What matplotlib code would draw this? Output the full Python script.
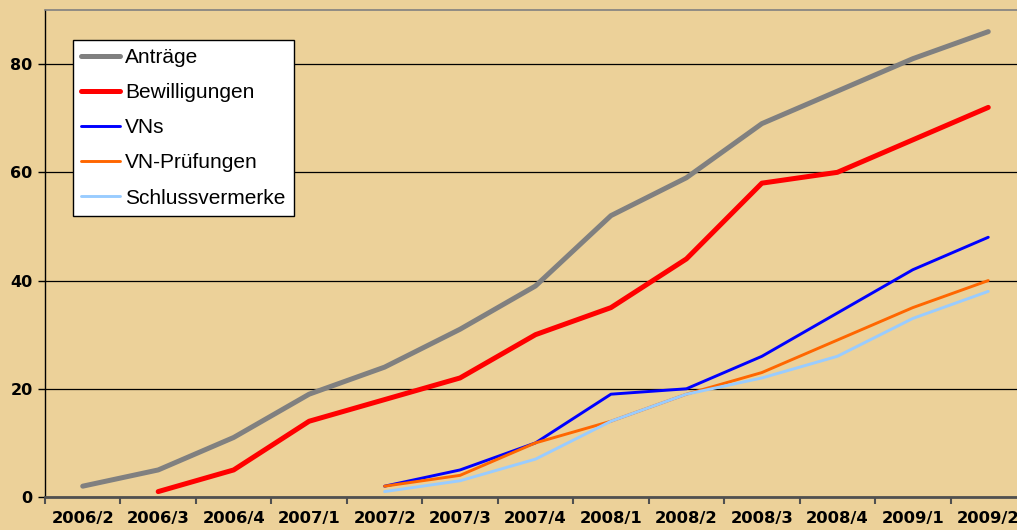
import matplotlib
matplotlib.use("Agg")
import matplotlib.pyplot as plt
import numpy as np

categories = ["2006/2", "2006/3", "2006/4", "2007/1", "2007/2", "2007/3", "2007/4",
              "2008/1", "2008/2", "2008/3", "2008/4", "2009/1", "2009/2"]
antraege = [2, 5, 11, 19, 24, 31, 39, 52, 59, 69, 75, 81, 86]
bewilligungen = [None, 1, 5, 14, 18, 22, 30, 35, 44, 58, 60, 66, 72]
vns = [None, None, None, None, 2, 5, 10, 19, 20, 26, 34, 42, 48]
vn_pruefungen = [None, None, None, None, 2, 4, 10, 14, 19, 23, 29, 35, 40]
schlussvermerke = [None, None, None, None, 1, 3, 7, 14, 19, 22, 26, 33, 38]
y_ticks = [0, 20, 40, 60, 80]

series = [
    ("Anträge", antraege, "#808080", 3.6),
    ("Bewilligungen", bewilligungen, "#FF0000", 3.6),
    ("VNs", vns, "#0000FF", 2.1),
    ("VN-Prüfungen", vn_pruefungen, "#FF6600", 2.1),
    ("Schlussvermerke", schlussvermerke, "#99CCFF", 2.1),
]

bg = "#ECD199"
fig = plt.figure(figsize=(10.17, 5.30), dpi=100, facecolor=bg)
ax = fig.add_axes([45/1017, 33/530, 981/1017, 487/530])
ax.set_facecolor(bg)

x = np.arange(len(categories))
for name, vals, col, lw in series:
    y = np.array([np.nan if v is None else v for v in vals], dtype=float)
    ax.plot(x, y, color=col, lw=lw, label=name, solid_capstyle="round",
            solid_joinstyle="round", zorder=3)

ax.set_xlim(-0.5, len(categories) - 0.5)
ax.set_ylim(0, 90)
ax.set_yticks(y_ticks)
ax.set_yticklabels([str(t) for t in y_ticks], fontsize=11.5, fontweight="bold",
                   family="DejaVu Sans")
ax.set_xticks(x)
ax.set_xticklabels(categories, fontsize=11.8, fontweight="bold", family="DejaVu Sans")
ax.set_xticks(np.arange(-0.5, len(categories), 1.0), minor=True)
ax.tick_params(axis="x", which="major", length=0, pad=10)
ax.tick_params(axis="x", which="minor", length=5, width=1.5, color="#505050", direction="out")
ax.tick_params(axis="y", length=5, width=1, color="black", direction="out", pad=4)

ax.grid(axis="y", color="black", lw=0.9, zorder=1)
ax.set_axisbelow(True)
ax.spines["right"].set_visible(False)
ax.spines["top"].set_color("#808080")
ax.spines["top"].set_linewidth(1.2)
ax.spines["left"].set_color("black")
ax.spines["left"].set_linewidth(1.0)
ax.spines["bottom"].set_color("#505050")
ax.spines["bottom"].set_linewidth(2.0)

leg = ax.legend(loc="upper left", bbox_to_anchor=(73/1017, 1 - 40/530),
                bbox_transform=fig.transFigure, frameon=True, fancybox=False,
                prop={"family": "Liberation Sans", "size": 15},
                handlelength=1.85, handletextpad=0.25, labelspacing=0.77,
                borderpad=0.40, borderaxespad=0, framealpha=1)
leg.get_frame().set_edgecolor("black")
leg.get_frame().set_linewidth(1.0)

fig.savefig("out.png", dpi=100, facecolor=bg)
